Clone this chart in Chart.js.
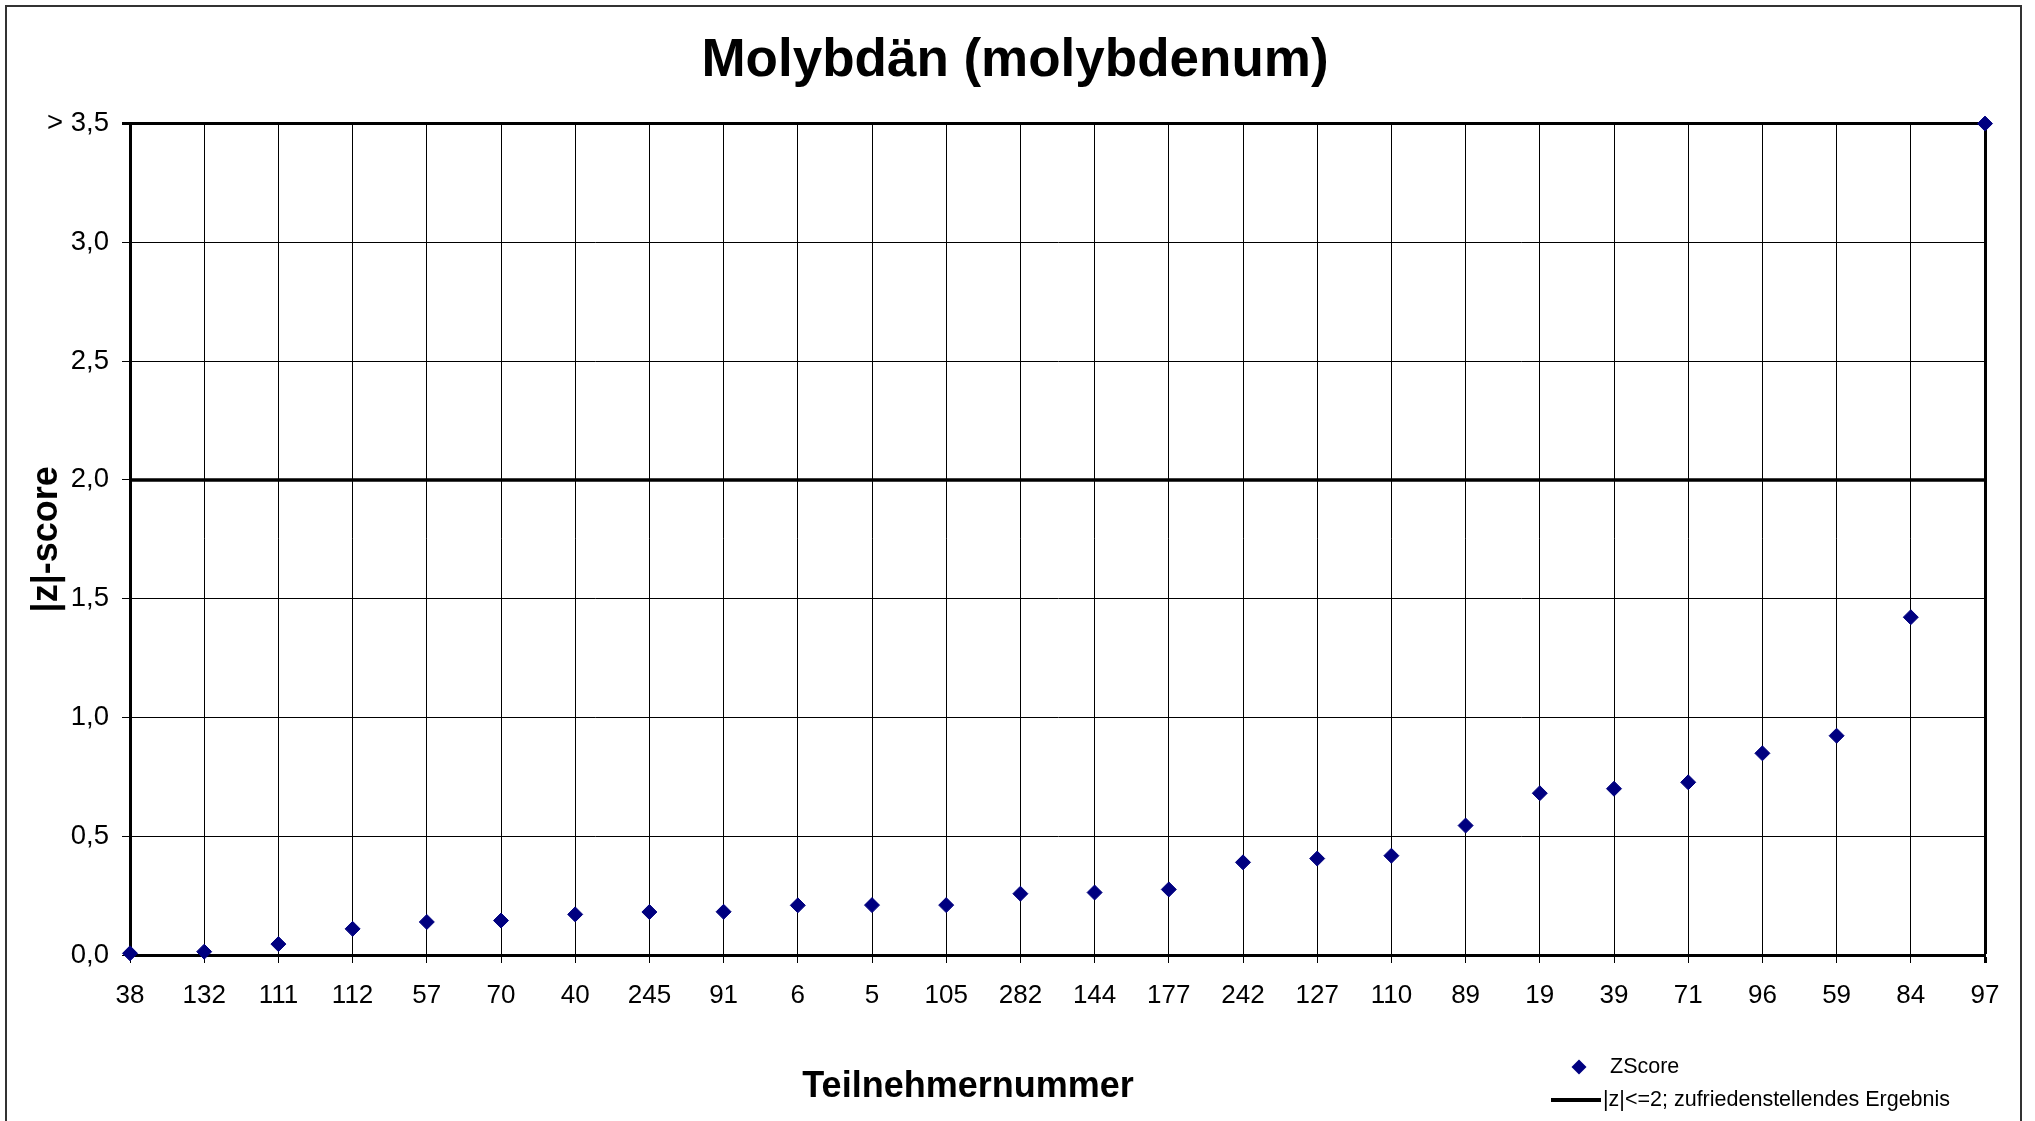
<!DOCTYPE html>
<html lang="de">
<head>
  <meta charset="UTF-8">
  <title>Molybdän (molybdenum)</title>
  <style>
    html, body { margin: 0; padding: 0; background: #fff; }
    .chartBox { width: 2035px; height: 1121px; }
  </style>
</head>
<body>
<div class="chartBox">
  <canvas id="myChart" width="2035" height="1121"></canvas>
</div>
<script src="https://cdn.jsdelivr.net/npm/chart.js"></script>
<script>
  // Teilnehmer (sortiert nach |z|)
  const participants = ['38', '132', '111', '112', '57', '70', '40', '245', '91', '6', '5', '105', '282',
    '144', '177', '242', '127', '110', '89', '19', '39', '71', '96', '59', '84', '97'];
  // |z|-score, Werte > 3,5 werden auf 3,5 gesetzt
  const zScores = [0.007, 0.014, 0.046, 0.110, 0.139, 0.145, 0.171, 0.181, 0.182, 0.209, 0.210, 0.210, 0.258,
    0.263, 0.276, 0.390, 0.406, 0.418, 0.545, 0.681, 0.700, 0.727, 0.849, 0.923, 1.422, 3.5];
  const limitValue = 2.0;
  const yTickValues = [0, 0.5, 1.0, 1.5, 2.0, 2.5, 3.0, 3.5];
  const yTickLabels = ['0,0', '0,5', '1,0', '1,5', '2,0', '2,5', '3,0', '> 3,5'];

  Chart.defaults.font.family = "'Liberation Sans', Arial, sans-serif";
  Chart.defaults.color = '#000';

  // Rahmen, x-Achsentitel und Legende unten rechts
  const decoPlugin = {
    id: 'deco',
    beforeDraw(chart) {
      const c = chart.ctx;
      c.save();
      c.strokeStyle = '#333';
      c.lineWidth = 2;
      c.strokeRect(6, 6, 2015, 1200);
      c.restore();
    },
    afterDraw(chart) {
      const c = chart.ctx;
      const ds = chart.data.datasets;
      c.save();
      // x title
      c.fillStyle = '#000';
      c.font = "bold 36px 'Liberation Sans', Arial, sans-serif";
      c.textAlign = 'center';
      c.textBaseline = 'middle';
      c.fillText(chart.options.scales.x.title.text, 968, 1087);

      // legend
      c.font = "21.5px 'Liberation Sans', Arial, sans-serif";
      c.textAlign = 'left';
      const px = 1579, py = 1067, r = 7.5;
      c.fillStyle = ds[0].pointBackgroundColor;
      c.beginPath();
      c.moveTo(px, py - r);
      c.lineTo(px + r, py);
      c.lineTo(px, py + r);
      c.lineTo(px - r, py);
      c.closePath();
      c.fill();
      c.fillStyle = '#000';
      c.fillText(ds[0].label, 1610, py);

      c.strokeStyle = ds[1].borderColor;
      c.lineWidth = 4;
      c.beginPath();
      c.moveTo(1551, 1100);
      c.lineTo(1601, 1100);
      c.stroke();
      c.fillText(ds[1].label, 1603, 1100);
      c.restore();
    }
  };

  const ctx = document.getElementById('myChart');
  const myChart = new Chart(ctx, {
    type: 'line',
    data: {
      labels: participants,
      datasets: [
        {
          label: 'ZScore',
          data: zScores,
          showLine: false,
          pointStyle: 'rectRot',
          pointRadius: 7.5,
          pointBorderWidth: 1,
          pointBackgroundColor: '#000080',
          pointBorderColor: '#000080',
          borderColor: '#000080',
          clip: false
        },
        {
          label: '|z|<=2; zufriedenstellendes Ergebnis',
          data: [
            {x: participants[0], y: limitValue},
            {x: participants[participants.length - 1], y: limitValue}
          ],
          borderColor: '#000',
          borderWidth: 3.5,
          pointRadius: 0,
          fill: false
        }
      ]
    },
    options: {
      responsive: false,
      maintainAspectRatio: false,
      devicePixelRatio: 1,
      animation: false,
      layout: {
        padding: {left: 45, right: 50, top: 0, bottom: 0}
      },
      plugins: {
        legend: {display: false},
        tooltip: {enabled: false},
        title: {
          display: true,
          text: 'Molybdän (molybdenum)',
          color: '#000',
          font: {size: 53, weight: 'bold'},
          padding: {top: 30, bottom: 30}
        }
      },
      scales: {
        x: {
          type: 'category',
          offset: false,
          grid: {
            color: '#000',
            lineWidth: (c) => c.index === participants.length - 1 ? 3 : 1,
            tickLength: 8
          },
          border: {display: true, color: '#000', width: 3},
          ticks: {
            font: {size: 26},
            color: '#000',
            padding: 17,
            maxRotation: 0,
            autoSkip: false
          },
          title: {display: false, text: 'Teilnehmernummer'},
          afterFit: (scale) => { scale.height = 166; }
        },
        y: {
          min: 0,
          max: 3.5,
          afterBuildTicks: (scale) => { scale.ticks = yTickValues.map(v => ({value: v})); },
          grid: {
            color: '#000',
            lineWidth: (c) => c.tick && c.tick.value === 3.5 ? 3 : 1,
            tickLength: 8
          },
          border: {display: true, color: '#000', width: 3},
          ticks: {
            font: {size: 27.5},
            color: '#000',
            padding: 13,
            callback: (v) => yTickLabels[yTickValues.indexOf(v)]
          },
          title: {
            display: true,
            text: '|z|-score',
            color: '#000',
            font: {size: 36, weight: 'bold'},
            padding: {top: -20, bottom: 0}
          },
          afterFit: (scale) => { scale.width = 85; }
        }
      }
    },
    plugins: [decoPlugin]
  });
</script>
</body>
</html>
